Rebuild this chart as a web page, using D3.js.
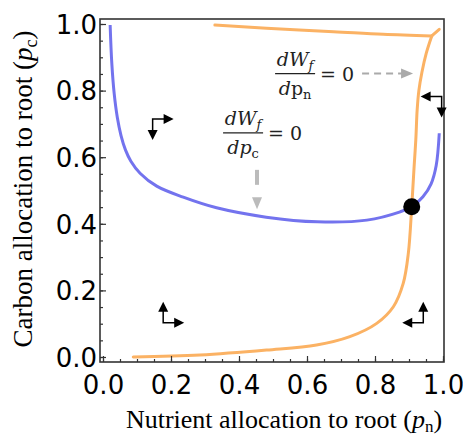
<!DOCTYPE html>
<html>
<head>
<meta charset="utf-8">
<script src="https://cdn.jsdelivr.net/npm/d3@7"></script>
<style>
body { margin: 0; background: #fff; }
</style>
</head>
<body>
<script>
// dWf/dpc = 0 isocline (blue)
var bluePn = [0.021, 0.026, 0.033, 0.042, 0.053, 0.066, 0.082, 0.109, 0.158, 0.236, 0.334, 0.48, 0.63, 0.776, 0.874, 0.908, 0.941, 0.965, 0.98, 0.989];
var bluePc = [0.997, 0.88, 0.79, 0.72, 0.665, 0.622, 0.588, 0.552, 0.513, 0.48, 0.448, 0.42, 0.406, 0.411, 0.436, 0.451, 0.481, 0.52, 0.575, 0.672];

// dWf/dpn = 0 isocline (orange), lower branch up to the corner
var orangePn = [0.089, 0.285, 0.481, 0.628, 0.726, 0.805, 0.854, 0.883, 0.898, 0.908, 0.915, 0.92, 0.924, 0.929, 0.938, 0.951, 0.967];
var orangePc = [0.0, 0.006, 0.021, 0.036, 0.061, 0.101, 0.151, 0.221, 0.311, 0.451, 0.571, 0.652, 0.742, 0.8, 0.855, 0.913, 0.964];

// orange upper branch and the small hook at the corner
var orangeTopPn = [0.329, 0.481, 0.678, 0.824, 0.967];
var orangeTopPc = [0.997, 0.987, 0.977, 0.969, 0.964];
var hookPn = [0.967, 0.989];
var hookPc = [0.964, 0.984];

// equilibrium
var eqPn = [0.908];
var eqPc = [0.451];

var xTicks = [0, 0.2, 0.4, 0.6, 0.8, 1.0];
var yTicks = [0, 0.2, 0.4, 0.6, 0.8, 1.0];
var tickLabels = ["0.0", "0.2", "0.4", "0.6", "0.8", "1.0"];

var width = 463, height = 436;

var x = d3.scaleLinear().domain([0, 1]).range([103, 443]);
var y = d3.scaleLinear().domain([0, 1]).range([357, 24]);

var frame = { left: 100, right: 444, top: 19, bottom: 362 };

var svg = d3.select("body").append("svg")
    .attr("width", width)
    .attr("height", height);

function pts(xs, ys) {
    return xs.map(function (d, i) { return [d, ys[i]]; });
}

var line = d3.line()
    .x(function (d) { return x(d[0]); })
    .y(function (d) { return y(d[1]); })
    .curve(d3.curveCatmullRom.alpha(0.5));

// curves
svg.append("path")
    .attr("d", line(pts(bluePn, bluePc)))
    .attr("fill", "none")
    .attr("stroke", "#7373ee")
    .attr("stroke-width", 3);

[pts(orangePn, orangePc), pts(orangeTopPn, orangeTopPc), pts(hookPn, hookPc)].forEach(function (p) {
    svg.append("path")
        .attr("d", line(p))
        .attr("fill", "none")
        .attr("stroke", "#fbb264")
        .attr("stroke-width", 3)
        .attr("stroke-linecap", "round");
});

svg.selectAll(".eq")
    .data(pts(eqPn, eqPc))
    .enter()
    .append("circle")
    .attr("class", "eq")
    .attr("cx", function (d) { return x(d[0]); })
    .attr("cy", function (d) { return y(d[1]); })
    .attr("r", 8.5)
    .attr("fill", "#000");

// frame + axes
svg.append("rect")
    .attr("x", frame.left)
    .attr("y", frame.top)
    .attr("width", frame.right - frame.left)
    .attr("height", frame.bottom - frame.top)
    .attr("fill", "none")
    .attr("stroke", "#333")
    .attr("stroke-width", 1.6);

var minor = d3.range(0, 1.0001, 0.05);

var xAxis = svg.append("g")
    .attr("transform", "translate(0," + frame.bottom + ")")
    .call(d3.axisBottom(x).tickValues(minor).tickSize(-3).tickFormat(""));
xAxis.select(".domain").remove();

var xAxisMajor = svg.append("g")
    .attr("transform", "translate(0," + frame.bottom + ")")
    .call(d3.axisBottom(x).tickValues(xTicks).tickSize(-6).tickPadding(14)
        .tickFormat(function (d, i) { return tickLabels[i]; }));
xAxisMajor.select(".domain").remove();

var yAxis = svg.append("g")
    .attr("transform", "translate(" + frame.left + ",0)")
    .call(d3.axisLeft(y).tickValues(minor).tickSize(-3).tickFormat(""));
yAxis.select(".domain").remove();

var yAxisMajor = svg.append("g")
    .attr("transform", "translate(" + frame.left + ",0)")
    .call(d3.axisLeft(y).tickValues(yTicks).tickSize(-6).tickPadding(3)
        .tickFormat(function (d, i) { return tickLabels[i]; }));
yAxisMajor.select(".domain").remove();
yAxisMajor.selectAll("text").attr("dy", "0.36em");

svg.selectAll(".tick line").attr("stroke", "#333").attr("stroke-width", 1.2);
svg.selectAll(".tick text")
    .attr("fill", "#000")
    .style("font-family", "DejaVu Sans")
    .style("font-size", "26px");

// axis titles
var xt = svg.append("text")
    .attr("x", 284)
    .attr("y", 428)
    .attr("text-anchor", "middle")
    .style("font-family", "Liberation Serif")
    .style("font-size", "26px")
    .style("fill", "#000");
xt.append("tspan").text("Nutrient allocation to root (");
xt.append("tspan").text("p").style("font-style", "italic");
xt.append("tspan").text("n").style("font-size", "17px").attr("dy", 4);
xt.append("tspan").text(")").attr("dy", -4);

var yt = svg.append("text")
    .attr("transform", "translate(32,189) rotate(-90)")
    .attr("text-anchor", "middle")
    .style("font-family", "Liberation Serif")
    .style("font-size", "27px")
    .style("fill", "#000");
yt.append("tspan").text("Carbon allocation to root (");
yt.append("tspan").text("p").style("font-style", "italic");
yt.append("tspan").text("c").style("font-size", "18px").attr("dy", 5);
yt.append("tspan").text(")").attr("dy", -5);

// fraction labels
function fraction(cx, barY, denP, denSub, denItalic) {
    var g = svg.append("g")
        .style("font-family", "DejaVu Serif")
        .style("fill", "#222");
    var num = g.append("text")
        .attr("x", cx).attr("y", barY - 7.5)
        .attr("text-anchor", "middle")
        .style("font-size", "19px");
    num.append("tspan").text("dW").style("font-style", "italic");
    num.append("tspan").text("f").style("font-style", "italic").style("font-size", "13px").attr("dy", 4);

    g.append("line")
        .attr("x1", cx - 20).attr("x2", cx + 20)
        .attr("y1", barY).attr("y2", barY)
        .attr("stroke", "#222").attr("stroke-width", 1.2);

    var den = g.append("text")
        .attr("x", cx).attr("y", barY + 21.5)
        .attr("text-anchor", "middle")
        .style("font-size", "19px");
    den.append("tspan").text("d").style("font-style", "italic");
    den.append("tspan").text(denP).style("font-style", denItalic ? "italic" : "normal");
    den.append("tspan").text(denSub).style("font-size", "13px").attr("dy", 4);

    g.append("text")
        .attr("x", cx + 25).attr("y", barY + 7)
        .style("font-size", "19px")
        .text("= 0");
}

fraction(x(0.565), y(0.851), "p", "n", false);
fraction(x(0.412), y(0.673), "p", "c", true);

// gray pointer arrows
function head(tx, ty, dx, dy, len, hw, color) {
    var bx = tx - dx * len, by = ty - dy * len;
    var px = -dy, py = dx;
    svg.append("path")
        .attr("d", "M" + tx + "," + ty +
            "L" + (bx + px * hw) + "," + (by + py * hw) +
            "L" + (bx - px * hw) + "," + (by - py * hw) + "Z")
        .attr("fill", color);
}

var ay = y(0.851);
svg.append("line")
    .attr("x1", x(0.762)).attr("x2", x(0.879))
    .attr("y1", ay).attr("y2", ay)
    .attr("stroke", "#aaa").attr("stroke-width", 2)
    .attr("stroke-dasharray", "7,5");
head(x(0.912), ay, 1, 0, 12, 5, "#aaa");

var ax = x(0.453);
svg.append("line")
    .attr("x1", ax).attr("x2", ax)
    .attr("y1", y(0.562)).attr("y2", y(0.517))
    .attr("stroke", "#bbb").attr("stroke-width", 4);
head(ax, y(0.444), 0, 1, 12, 5, "#bbb");

// black elbow arrows showing direction of change
var elbows = [
    { p: [0.146, 0.715], a: [1, 0], b: [0, 1] },
    { p: [0.177, 0.103], a: [0, -1], b: [1, 0] },
    { p: [0.942, 0.103], a: [0, -1], b: [-1, 0] },
    { p: [0.996, 0.782], a: [-1, 0], b: [0, 1] }
];
var arm = 21, hl = 10;
elbows.forEach(function (e) {
    var cx = x(e.p[0]), cy = y(e.p[1]);
    svg.append("path")
        .attr("d", "M" + (cx + e.a[0] * (arm - hl + 1)) + "," + (cy + e.a[1] * (arm - hl + 1)) +
            "L" + cx + "," + cy +
            "L" + (cx + e.b[0] * (arm - hl + 1)) + "," + (cy + e.b[1] * (arm - hl + 1)))
        .attr("fill", "none")
        .attr("stroke", "#000")
        .attr("stroke-width", 1.5);
    head(cx + e.a[0] * arm, cy + e.a[1] * arm, e.a[0], e.a[1], hl, 5, "#000");
    head(cx + e.b[0] * arm, cy + e.b[1] * arm, e.b[0], e.b[1], hl, 5, "#000");
});
</script>
</body>
</html>
